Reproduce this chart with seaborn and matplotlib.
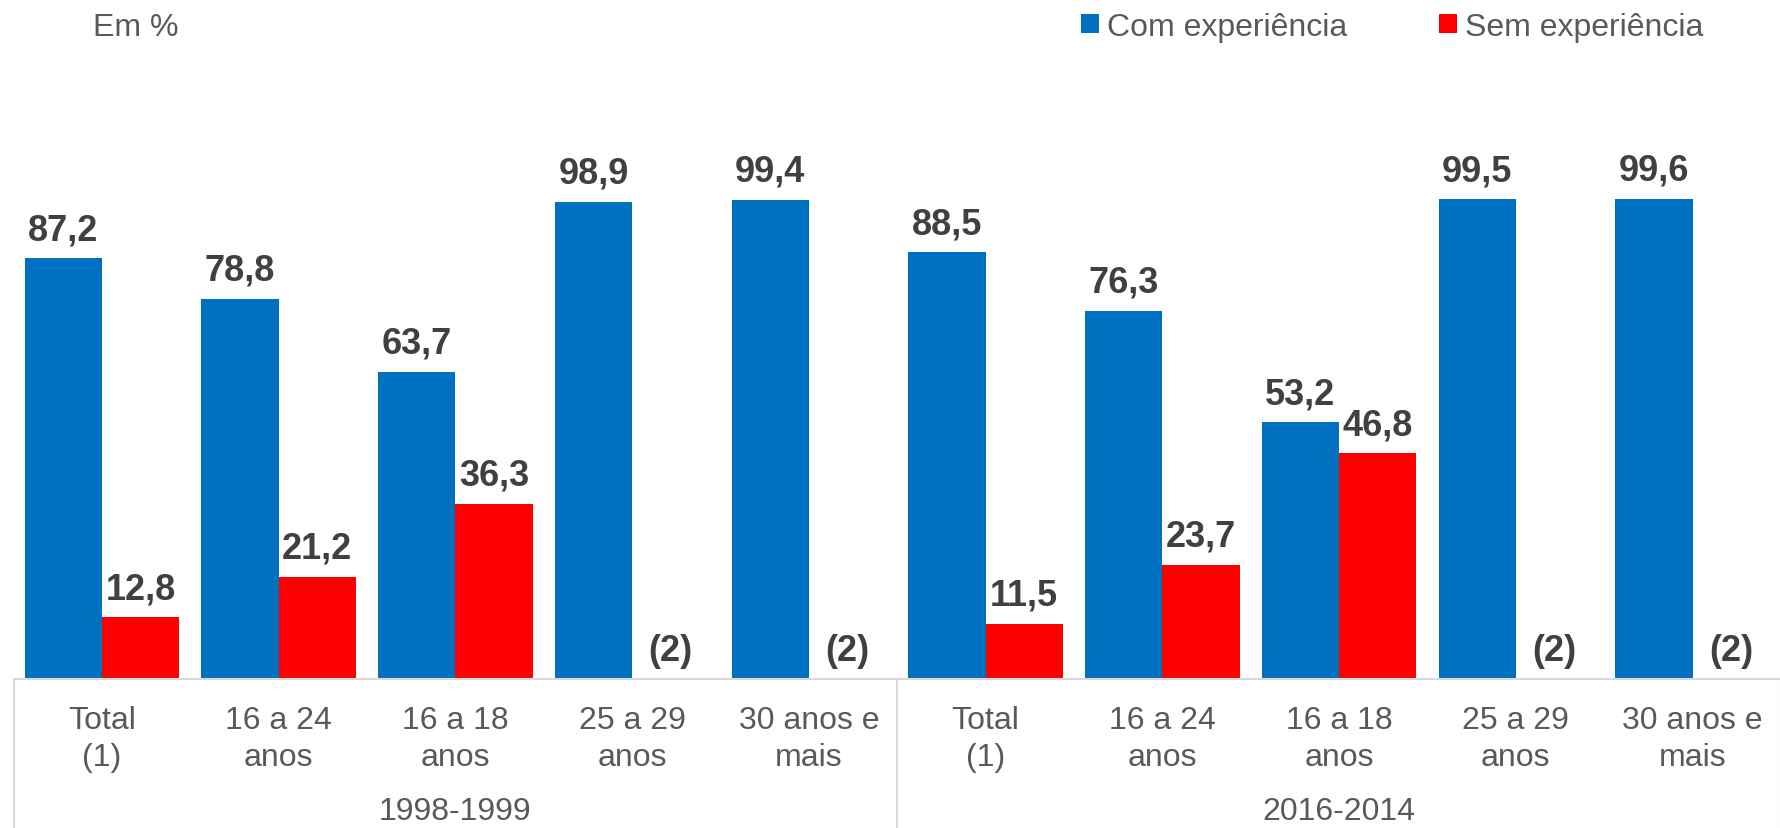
import numpy as np
import pandas as pd
import matplotlib
matplotlib.use("Agg")
import matplotlib.pyplot as plt
from matplotlib.patches import Patch
import seaborn as sns

# ---- data ----
periods = ["1998-1999", "2016-2014"]
categories = ["Total\n(1)", "16 a 24\nanos", "16 a 18\nanos", "25 a 29\nanos", "30 anos e\nmais"]
series = ["Com experiência", "Sem experiência"]
com_exp = [87.2, 78.8, 63.7, 98.9, 99.4, 88.5, 76.3, 53.2, 99.5, 99.6]
sem_exp = [12.8, 21.2, 36.3, np.nan, np.nan, 11.5, 23.7, 46.8, np.nan, np.nan]
missing_label = "(2)"
colors = ["#0070C0", "#FF0000"]

# ---- long-form table ----
keys = [f"{p}|{c}" for p in periods for c in categories]
rows = []
for k, v1, v2 in zip(keys, com_exp, sem_exp):
    rows.append({"key": k, "serie": series[0], "valor": v1})
    rows.append({"key": k, "serie": series[1], "valor": v2})
df = pd.DataFrame(rows)

sns.set_theme(style="white")
plt.rcParams["font.family"] = ["Liberation Sans", "DejaVu Sans"]

W, H = 1781, 829
fig = plt.figure(figsize=(W / 100, H / 100), dpi=100)
ax_left = 13.5 / W
ax_bottom = (H - 680) / H
ax = fig.add_axes([ax_left, ax_bottom, 1 - ax_left + 0.0, 680 / H])

sns.barplot(data=df, x="key", y="valor", hue="serie", order=keys,
            hue_order=series, palette=colors, width=0.875, dodge=True,
            errorbar=None, saturation=1, ax=ax, legend=False,
            linewidth=0, edgecolor="none")

ax.set_ylim(0, 141)
ax.set_xlim(-0.5, len(keys) - 0.5)
ax.set_xlabel("")
ax.set_ylabel("")
ax.set_yticks([])
for s in ["top", "right", "left"]:
    ax.spines[s].set_visible(False)
ax.spines["bottom"].set_color("#d9d9d9")
ax.spines["bottom"].set_linewidth(1.5)

ax.set_xticks(range(len(keys)))
ax.set_xticklabels(categories * len(periods), fontsize=23, color="#595959",
                   linespacing=1.3)
ax.tick_params(axis="x", length=0, pad=19)

# value labels
lab_col = "#404040"
for cont in ax.containers:
    vals = [b.get_height() for b in cont]
    labels = ["" if (v is None or np.isnan(v)) else f"{v:.1f}".replace(".", ",") for v in vals]
    ax.bar_label(cont, labels=labels, padding=8, fontsize=26, fontweight="bold",
                 color=lab_col)

# "(2)" labels where Sem experiência is missing
blue_bars = list(ax.containers[0])
for i, v in enumerate(sem_exp):
    if np.isnan(v):
        b = blue_bars[i]
        xc = b.get_x() + 1.5 * b.get_width()
        ax.annotate(missing_label, (xc, 0), xytext=(0, 8), textcoords="offset points",
                    ha="center", va="bottom", fontsize=26, fontweight="bold",
                    color=lab_col)

# group separators and group labels
trans = ax.get_xaxis_transform()
n = len(categories)
for g in range(len(periods) + 1):
    xb = g * n - 0.5
    ax.plot([xb, xb], [0, -0.25], transform=trans, color="#d9d9d9", lw=1.5,
            clip_on=False)
for g, p in enumerate(periods):
    xc = g * n + (n - 1) / 2
    ax.text(xc, -(812 - 680) / 680, p, transform=trans, ha="center", va="center",
            fontsize=23, color="#595959")

# legend
handles = [Patch(facecolor=c, edgecolor="none") for c in colors]
fig.legend(handles, series, loc="upper left",
           bbox_to_anchor=(1081 / W, 1 - 13 / H), ncol=2, frameon=False,
           fontsize=23, labelcolor="#595959", handlelength=0.55,
           handleheight=0.55, handletextpad=0.25, columnspacing=2.9,
           borderaxespad=0, borderpad=0)

fig.text(93 / W, 1 - 28 / H, "Em %", fontsize=23, color="#595959",
         ha="left", va="center")

fig.savefig("out.png", dpi=100)
